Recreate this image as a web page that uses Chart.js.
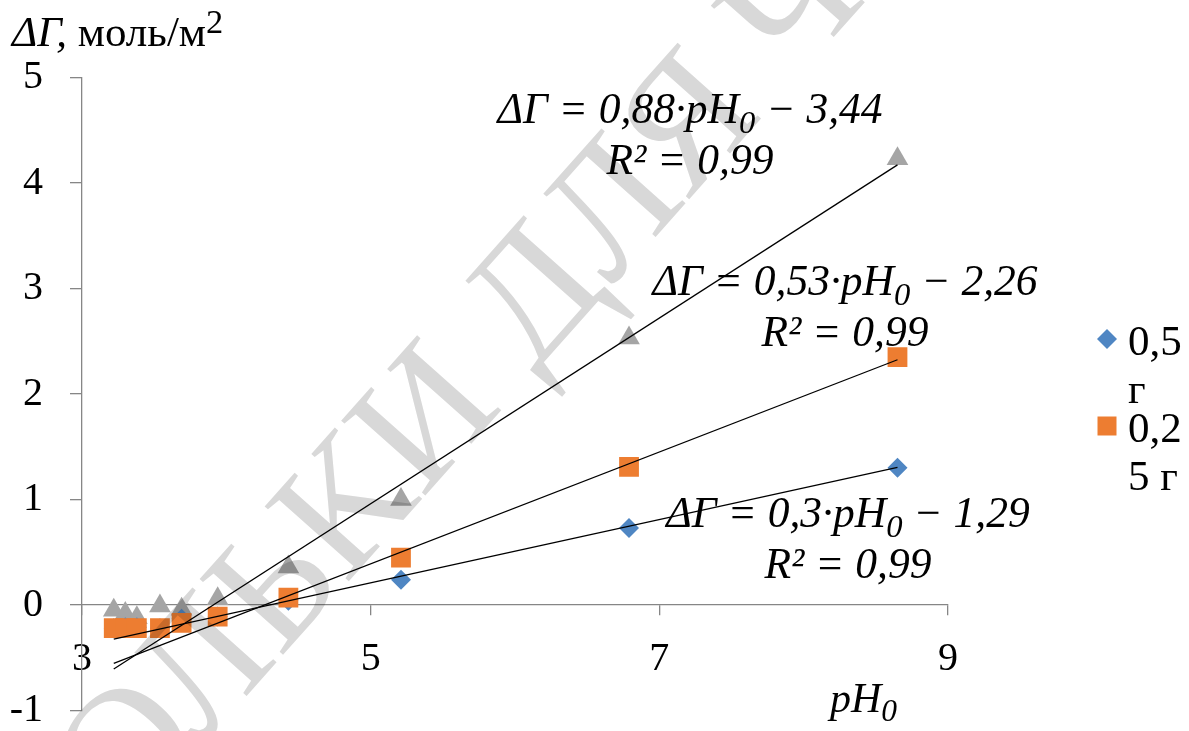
<!DOCTYPE html>
<html>
<head>
<meta charset="utf-8">
<script src="https://cdn.jsdelivr.net/npm/chart.js@4.4.0/dist/chart.umd.min.js"></script>
<style>
  html, body { margin: 0; background: #fff; }
  #wrap { width: 1189px; height: 731px; }
</style>
</head>
<body>
<div id="wrap"><canvas id="chart"></canvas></div>
<script>
// ================= DATA =================
const phValues = [3.22, 3.30, 3.38, 3.54, 3.69, 3.94, 4.43, 5.21, 6.79, 8.65];
const dG05 = [-0.22, -0.21, -0.21, -0.22, -0.13, -0.11, 0.04, 0.24, 0.73, 1.30];
const dG025 = [-0.22, -0.22, -0.22, -0.22, -0.17, -0.11, 0.07, 0.45, 1.31, 2.35];
const dG01 = [-0.05, -0.08, -0.12, -0.01, -0.04, 0.06, 0.36, 1.00, 2.53, 4.23];

const seriesNames = ["0,5 г", "0,25 г", "0,1 г"];
const slopes = [0.3, 0.53, 0.88];
const intercepts = [-1.29, -2.26, -3.44];
const rSquared = [0.99, 0.99, 0.99];

const xTicks = [3, 5, 7, 9];
const yTicks = [-1, 0, 1, 2, 3, 4, 5];

// ================= STYLE =================
const FONT = "'Liberation Serif'";
const colors = ["#4F86C3", "#ED7D31", "#A5A5A5"];
const axisColor = "#868686";

// ================= HELPERS =================
function comma(v) {
  return String(v).replace(".", ",");
}

function points(ys) {
  return phValues.map((x, i) => ({ x: x, y: ys[i] }));
}

// trend line between first and last pH
function trend(i) {
  const x0 = phValues[0], x1 = phValues[phValues.length - 1];
  return [
    { x: x0, y: slopes[i] * x0 + intercepts[i] },
    { x: x1, y: slopes[i] * x1 + intercepts[i] }
  ];
}

function partFont(p, size) {
  const s = p.sub ? size * 0.75 : p.sup ? size * 0.8 : size;
  return (p.it ? "italic " : "") + s + "px " + FONT;
}

// text made of pieces: italic / subscript / superscript
function drawParts(ctx, parts, x, y, size, align) {
  let total = 0;
  parts.forEach(p => {
    ctx.font = partFont(p, size);
    p.w = ctx.measureText(p.t).width;
    total += p.w;
  });
  let cx = align === "center" ? x - total / 2 : x;
  ctx.textAlign = "left";
  ctx.textBaseline = "alphabetic";
  parts.forEach(p => {
    ctx.font = partFont(p, size);
    let dy = 0;
    if (p.sub) dy = size * 0.22;
    if (p.sup) dy = -size * 0.3;
    ctx.fillText(p.t, cx, y + dy);
    cx += p.w;
  });
}

function wrapChars(ctx, text, maxW) {
  const lines = [];
  let cur = "";
  for (const ch of text) {
    if (cur === "" && ch === " ") continue;
    if (ctx.measureText(cur + ch).width > maxW && cur !== "") {
      lines.push(cur.trim());
      cur = ch === " " ? "" : ch;
    } else {
      cur += ch;
    }
  }
  if (cur.trim()) lines.push(cur.trim());
  return lines;
}

function zeroPad(s) {
  s.paddingTop = 0; s.paddingBottom = 0; s.paddingLeft = 0; s.paddingRight = 0;
}

// ================= PLUGINS =================
const watermark = {
  id: "watermark",
  afterDatasetsDraw(chart) {
    const ctx = chart.ctx;
    const text = "ТОЛЬКИ ДЛЯ ЧТЕНИЯ";
    const ang = -48.3 * Math.PI / 180;
    ctx.save();
    ctx.font = "172px " + FONT;
    const pre = ctx.measureText("ТОЛЬ").width + ctx.measureText("К").width / 2;
    const kx = 350, ky = 512;
    const sx = kx - pre * Math.cos(ang);
    const sy = ky - pre * Math.sin(ang);
    ctx.globalCompositeOperation = "multiply";
    ctx.translate(sx, sy);
    ctx.rotate(ang);
    ctx.fillStyle = "#d8d8d8";
    ctx.textAlign = "left";
    ctx.textBaseline = "middle";
    ctx.fillText(text, 0, 0);
    ctx.restore();
  }
};

const labels = {
  id: "labels",
  afterDraw(chart) {
    const ctx = chart.ctx;
    ctx.save();
    ctx.fillStyle = "#000";

    // axis titles
    drawParts(ctx, [{ t: "ΔΓ,", it: true }, { t: " моль/м" }, { t: "2", sup: true }], 12, 46, 43, "left");
    drawParts(ctx, [{ t: "pH", it: true }, { t: "0", it: true, sub: true }], 830, 712, 42, "left");

    // trend equations
    const eqPos = [[848, 527], [845, 295], [690, 123]];
    slopes.forEach((k, i) => {
      const [cx, by] = eqPos[i];
      drawParts(ctx, [
        { t: "ΔΓ = " + comma(k) + "·pH", it: true },
        { t: "0", it: true, sub: true },
        { t: " − " + comma(-intercepts[i]), it: true }
      ], cx, by, 43.5, "center");
      drawParts(ctx, [{ t: "R² = " + comma(rSquared[i]), it: true }], cx, by + 51, 43.5, "center");
    });

    // legend (only first two series fit)
    const legendY = [339, 426];
    [0, 1].forEach(i => {
      const mx = 1107, my = legendY[i];
      ctx.fillStyle = colors[i];
      ctx.beginPath();
      if (i === 0) {
        ctx.moveTo(mx, my - 10); ctx.lineTo(mx + 10, my);
        ctx.lineTo(mx, my + 10); ctx.lineTo(mx - 10, my);
      } else {
        ctx.rect(mx - 9.5, my - 9.5, 19, 19);
      }
      ctx.fill();
      ctx.fillStyle = "#000";
      ctx.font = "43px " + FONT;
      ctx.textAlign = "left";
      ctx.textBaseline = "alphabetic";
      wrapChars(ctx, seriesNames[i], 60).forEach((line, j) => {
        ctx.fillText(line, 1128, my + 16 + j * 48);
      });
    });
    ctx.restore();
  }
};

// ================= CHART =================
const tickFont = { family: FONT, size: 40, lineHeight: 1 };

new Chart(document.getElementById("chart"), {
  type: "scatter",
  data: {
    datasets: [
      { label: seriesNames[0], data: points(dG05), pointStyle: "rectRot", pointRadius: 10,
        backgroundColor: colors[0], borderWidth: 0, order: 2 },
      { label: seriesNames[1], data: points(dG025), pointStyle: "rect", pointRadius: 14,
        backgroundColor: colors[1], borderWidth: 0, order: 1 },
      { label: seriesNames[2], data: points(dG01), pointStyle: "triangle", pointRadius: 12.5,
        backgroundColor: colors[2], borderWidth: 0, order: 3 },
      ...[0, 1, 2].map(i => ({
        label: "trend " + i, data: trend(i), showLine: true, pointRadius: 0,
        borderColor: "#000", borderWidth: 1.3, order: 0
      }))
    ]
  },
  options: {
    responsive: true,
    maintainAspectRatio: false,
    animation: false,
    layout: { padding: { left: 0, top: 77.5, right: 241, bottom: 20.5 } },
    plugins: { legend: { display: false }, tooltip: { enabled: false } },
    scales: {
      x: {
        type: "linear",
        min: xTicks[0], max: xTicks[xTicks.length - 1],
        position: { y: 0 },
        afterBuildTicks: s => { s.ticks = xTicks.map(v => ({ value: v })); },
        afterFit: s => { s.height = 0; zeroPad(s); },
        ticks: { color: "#000", font: tickFont, padding: 24, maxRotation: 0 },
        grid: { drawOnChartArea: false, drawTicks: true, tickLength: 10, color: axisColor, lineWidth: 1.3 },
        border: { color: axisColor, width: 1.3 }
      },
      y: {
        type: "linear",
        min: yTicks[0], max: yTicks[yTicks.length - 1],
        afterBuildTicks: s => { s.ticks = yTicks.map(v => ({ value: v })); },
        afterFit: s => { s.width = 82; zeroPad(s); },
        ticks: { color: "#000", font: tickFont, padding: 27 },
        grid: { drawOnChartArea: false, drawTicks: true, tickLength: 12, color: axisColor, lineWidth: 1.3 },
        border: { color: axisColor, width: 1.3 }
      }
    }
  },
  plugins: [watermark, labels]
});
</script>
</body>
</html>
